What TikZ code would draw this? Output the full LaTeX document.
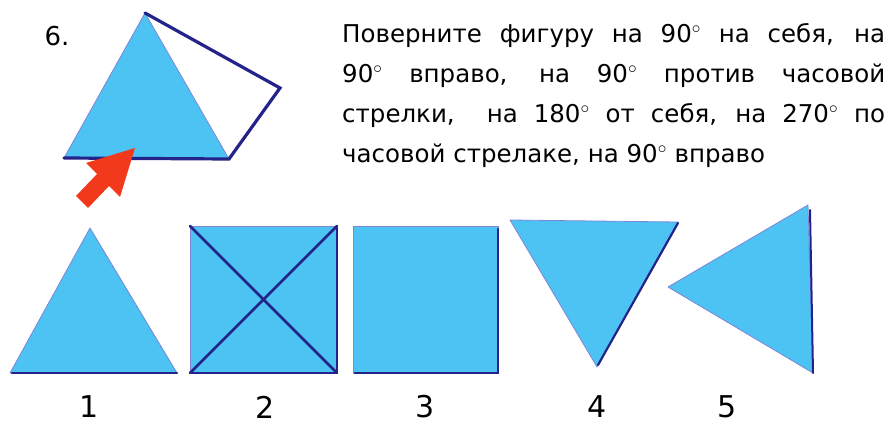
\documentclass[tikz,border=0pt]{standalone}
\usepackage{fontspec}
\setmainfont{DejaVu Sans}
\definecolor{figFill}{HTML}{4CC3F2}
\definecolor{figEdge}{HTML}{7F86D8}
\definecolor{figNavy}{HTML}{24238A}
\definecolor{figRed}{HTML}{F2391B}
\tikzset{
  fig shape/.style={fill=figFill, draw=figEdge, line width=0.8pt, line join=round},
  fig dark/.style={draw=figNavy, line width=3.2pt, line cap=round},
  fig num/.style={font=\fontsize{30}{30}\selectfont, text=black, inner sep=0pt},
  fig text/.style={font=\fontsize{24.5}{40}\selectfont, text=black, align=justify, text width=543pt, inner sep=0pt},
}
\begin{document}
\begin{tikzpicture}[x=1pt,y=-1pt]
  \useasboundingbox (0,0) rectangle (888,425);
  % task figure
  \node[fig num, font=\fontsize{26}{26}\selectfont] (taskno) at (57,36) {6.};
  \coordinate (tA) at (145,13); \coordinate (tL) at (64,158); \coordinate (tR) at (229,159); \coordinate (tQ) at (280,88);
  \fill[fig shape] (tA) -- (tR) -- (tL) -- cycle;
  \draw[fig dark] (tA) -- (tQ) -- (tR) -- (tL);
  \fill[figRed] (135,148) -- (120,197) -- (109,186) -- (88,208) -- (76,196) -- (97,174) -- (86,163) -- cycle;
  \node[fig text, anchor=north west] (task) at (342,23) {Поверните фигуру на 90$^\circ$ на себя, на\linebreak 90$^\circ$ вправо, на 90$^\circ$ против часовой\linebreak стрелки,\ \ на 180$^\circ$ от себя, на 270$^\circ$ по\linebreak часовой стрелаке, на 90$^\circ$ вправо};
  % answer figures
  \fill[fig shape] (90,228) -- (177,373) -- (10,373) -- cycle;
  \draw[fig dark, line width=2.2pt] (12,373) -- (177,373);
  \fill[fig shape] (190,226) rectangle (337,373);
  \draw[fig dark, line width=2.8pt] (190,226) -- (337,373) (337,226) -- (190,373);
  \draw[fig dark, line width=2.2pt] (337,228) -- (337,373) -- (192,373);
  \fill[fig shape] (353,226) rectangle (498,373);
  \draw[fig dark, line width=2.2pt] (498,229) -- (498,373) -- (355,373);
  \fill[fig shape] (510,220) -- (678,222) -- (597,367) -- cycle;
  \draw[fig dark, line width=2.2pt] (678,223) -- (598,365);
  \fill[fig shape] (668,287) -- (808,205) -- (813,373) -- cycle;
  \draw[fig dark, line width=2pt] (810,210) -- (813,373);
  \foreach \n/\x in {1/89,2/265,3/425,4/597,5/727}{\node[fig num] (num\n) at (\x,407) {\n};}
\end{tikzpicture}
\end{document}
